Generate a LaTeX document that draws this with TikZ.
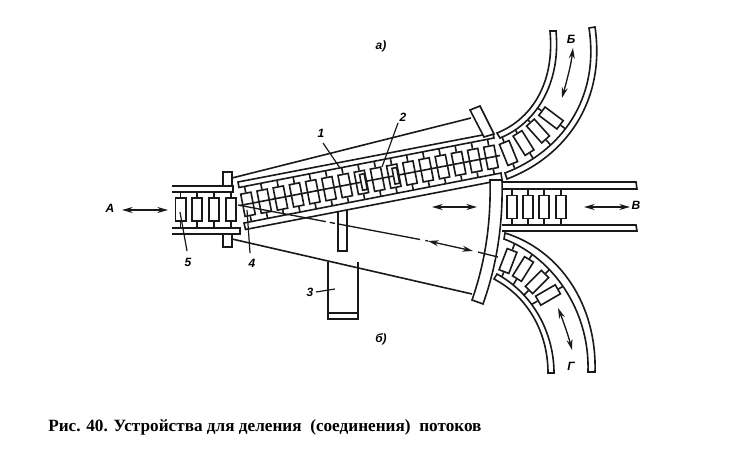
\documentclass[tikz,border=0pt]{standalone}
\usepackage{fontspec}
\setmainfont{Liberation Serif}
\setsansfont{Liberation Sans}
\usetikzlibrary{arrows.meta}
\tikzset{
  ink/.style={draw=black!90,line width=1.2pt,line join=miter},
  thin ink/.style={draw=black!90,line width=1pt},
  solidbox/.style={ink,fill=white},
  roller/.style={ink,fill=white,rectangle,inner sep=0pt,minimum width=17pt,minimum height=7.8pt},
  arr/.style={draw=black!90,line width=1pt,{Stealth[length=8pt,width=4.5pt]}-{Stealth[length=8pt,width=4.5pt]}},
  leader/.style={draw=black!90,line width=.9pt},
  lab/.style={font=\sffamily\itshape\bfseries\fontsize{9}{10}\selectfont,text=black,inner sep=0pt},
}
\newcommand{\rollerat}[4]{% name, x,y, angle
  \node[roller,rotate=#4] (#1) at (#2,#3) {};
  \draw[ink] (#1.east) -- ++(#4:5pt);
  \draw[ink] (#1.west) -- ++(#4+180:5pt);
}
\begin{document}
\begin{tikzpicture}[x=0.75pt,y=-0.75pt]
\useasboundingbox (0,0) rectangle (735,471);
% support 3
\draw[ink] (328,262) -- (328,319) -- (358,319) -- (358,262);
\draw[ink] (328,313) -- (358,313);
% frame of the moving section
\draw[ink] (232,178) -- (471,118);
\draw[ink] (232,239) -- (472,294);
\draw[solidbox] (338,205) rectangle (347,251);
% left track
\foreach \n/\x in {l1/180.5,l2/197,l3/214,l4/231}{
  \draw[ink] (\x,192) -- (\x,228);
  \node[roller,rotate=90,minimum width=17.5pt] (\n) at (\x,209.5) {};
}
\draw[solidbox] (223,172) rectangle (232,186);
\draw[solidbox] (223,234) rectangle (232,247);
\draw[ink,fill=white] (172,228) -- (240,228) -- (240,234) -- (172,234);
\draw[ink,fill=white] (172,186) -- (233,186) -- (233,192) -- (172,192);
% main rollers
\foreach \i in {0,...,15}{
  \pgfmathsetmacro{\cx}{248+\i*16.2}
  \pgfmathsetmacro{\cy}{204.3-\i*3.13}
  \rollerat{m\i}{\cx}{\cy}{-79}
}
\draw[ink] (240,205.5) -- (500,155.5);
\node[roller,rotate=-79,minimum width=12pt,minimum height=3.5pt] (in1) at (363.4,182) {};
\node[roller,rotate=-79,minimum width=12pt,minimum height=3.5pt] (in2) at (395.8,175.8) {};
% moving rails
\draw[solidbox] (238,182) -- (493,133) -- (494,138) -- (239,187.5) -- cycle;
\draw[solidbox] (244,223) -- (501,173) -- (502,180) -- (245.5,229.5) -- cycle;
% end plates
\draw[solidbox] (470,110) -- (480,106) -- (494,134) -- (484,137) -- cycle;
\draw[solidbox] (490,180) .. controls (491,220) and (486,260) .. (472,300) -- (483,304) .. controls (498,262) and (503,220) .. (502,180) -- cycle;
% right track
\foreach \n/\x in {r1/512,r2/528,r3/544,r4/561}{
  \draw[ink] (\x,189) -- (\x,225);
  \node[roller,rotate=90,minimum width=17.5pt] (\n) at (\x,207) {};
}
\draw[ink] (502,182) -- (636,182) -- (637,189) -- (502,189);
\draw[ink] (502,225) -- (636,225) -- (637,231) -- (502,231);
% curve B
\rollerat{b1}{508.5}{153}{-68}
\rollerat{b2}{523.5}{143}{-58}
\rollerat{b3}{538}{131}{-48}
\rollerat{b4}{551}{118}{-37}
\draw[solidbox] (497,133) .. controls (530,120) and (555,85) .. (550,31) -- (556,31) .. controls (561,85) and (535,124) .. (500,138) -- cycle;
\draw[solidbox] (505,173) .. controls (560,152) and (600,100) .. (589,28) -- (595,27) .. controls (606,102) and (565,157) .. (507,179) -- cycle;
% curve G
\rollerat{g1}{508}{261}{69}
\rollerat{g2}{523}{269}{58}
\rollerat{g3}{537}{282}{45}
\rollerat{g4}{548}{295}{30}
\draw[solidbox] (505,233) .. controls (560,250) and (597,305) .. (595,372) -- (588,372) .. controls (590,310) and (552,257) .. (504,239) -- cycle;
\draw[solidbox] (497,274) .. controls (535,295) and (554,335) .. (554,373) -- (548,373) .. controls (548,335) and (530,298) .. (494,279) -- cycle;
% axis
\draw[thin ink,dash pattern=on 67pt off 3pt on 4pt off 3pt on 62pt off 4pt on 3pt off 10pt] (238,205) -- (428,241);
\draw[thin ink] (478,252) -- (498,257);
% arrows
\draw[arr] (122,210) -- (168,210);
\draw[arr] (432,207) -- (477,207);
\draw[arr] (584,207) -- (630,207);
\draw[arr] (428,241) -- (473,251);
\draw[arr] (573,48) .. controls (571,65) and (567,80) .. (562,98);
\draw[arr] (558,308) .. controls (564,323) and (569,338) .. (572,350);
% leaders
\draw[leader] (323,143) -- (340,168);
\draw[leader] (398,123) -- (382,167);
\draw[leader] (316,292) -- (335,289);
\draw[leader] (250,253) -- (247,210);
\draw[leader] (187,251) -- (180,212);
% labels
\node[lab] (la) at (381,46) {а)};
\node[lab] (lb) at (381,339) {б)};
\node[lab] (lA) at (110,208) {А};
\node[lab] (lB) at (571,39) {Б};
\node[lab] (lV) at (636,205) {В};
\node[lab] (lG) at (571,366) {Г};
\node[lab] (n1) at (321,133) {1};
\node[lab] (n2) at (403,117) {2};
\node[lab] (n3) at (310,292) {3};
\node[lab] (n4) at (252,263) {4};
\node[lab] (n5) at (188,262) {5};
\node[anchor=west,inner sep=0pt,font=\bfseries\fontsize{12.9}{13}\selectfont] (cap) at (48,427) {Рис. 40. Устройства для деления\ \ (соединения)\ \ потоков};
\end{tikzpicture}
\end{document}
